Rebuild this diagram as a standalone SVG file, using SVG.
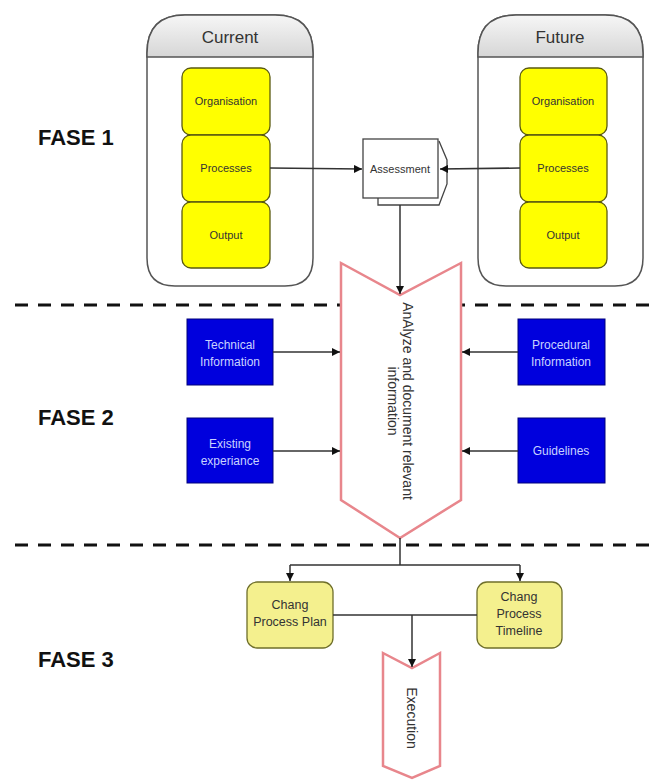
<svg xmlns="http://www.w3.org/2000/svg" width="654" height="780" viewBox="0 0 654 780">
<defs>
<linearGradient id="hdr" x1="0" y1="0" x2="0" y2="1">
<stop offset="0" stop-color="#f6f6f6"/>
<stop offset="1" stop-color="#d6d6d6"/>
</linearGradient>
<marker id="ah" viewBox="0 0 10 10" refX="10" refY="5" markerWidth="8" markerHeight="8" markerUnits="userSpaceOnUse" orient="auto">
<path d="M0,0 L10,5 L0,10 z" fill="#111"/>
</marker>
<style>
text{font-family:"Liberation Sans",Arial,sans-serif;}
.cont{fill:#fff;stroke:#555;stroke-width:1.5;}
.hdr{fill:url(#hdr);stroke:#555;stroke-width:1.5;}
.ht{font-size:17px;fill:#333;text-anchor:middle;}
.yb{fill:#ffff00;stroke:#5a5a10;stroke-width:1.3;}
.yt{font-size:11px;fill:#333;text-anchor:middle;}
.bb{fill:#0000dd;stroke:#00007a;stroke-width:1;}
.bt{font-size:12px;fill:#c8d2ff;text-anchor:middle;}
.cb{fill:#f4f08e;stroke:#6f6f2a;stroke-width:1.3;}
.ct{font-size:12.5px;fill:#333;text-anchor:middle;}
.chev{fill:#fff;stroke:#e8868c;stroke-width:2.5;}
.rt{font-size:14px;fill:#333;text-anchor:middle;}
.fase{font-size:22px;font-weight:bold;fill:#111;}
.dash{stroke:#111;stroke-width:3;stroke-dasharray:13 10;fill:none;}
.ln{stroke:#333;stroke-width:1.5;fill:none;}
.arr{stroke:#333;stroke-width:1.5;fill:none;marker-end:url(#ah);}
</style>
</defs>
<rect width="654" height="780" fill="#fff"/>

<g id="phases">
<text class="fase" x="38" y="145">FASE 1</text>
<text class="fase" x="38" y="425">FASE 2</text>
<text class="fase" x="38" y="667">FASE 3</text>
<line class="dash" x1="15" y1="305" x2="654" y2="305"/>
<line class="dash" x1="15" y1="545" x2="654" y2="545"/>
</g>

<g id="current">
<path class="cont" d="M185,15 L275,15 Q313,15 313,53 L313,258 Q313,286 285,286 L175,286 Q147,286 147,258 L147,53 Q147,15 185,15 z"/>
<path class="hdr" d="M185,15 L275,15 Q313,15 313,53 L313,57 L147,57 L147,53 Q147,15 185,15 z"/>
<text class="ht" x="230" y="43">Current</text>
</g>
<g id="cur-org"><rect class="yb" x="182" y="68" width="88" height="67" rx="9"/><text class="yt" x="226" y="105">Organisation</text></g>
<g id="cur-proc"><rect class="yb" x="182" y="135" width="88" height="67" rx="9"/><text class="yt" x="226" y="172">Processes</text></g>
<g id="cur-out"><rect class="yb" x="182" y="202" width="88" height="66" rx="9"/><text class="yt" x="226" y="239">Output</text></g>

<g id="future">
<path class="cont" d="M516,15 L605,15 Q643,15 643,53 L643,258 Q643,286 615,286 L506,286 Q478,286 478,258 L478,53 Q478,15 516,15 z"/>
<path class="hdr" d="M516,15 L605,15 Q643,15 643,53 L643,57 L478,57 L478,53 Q478,15 516,15 z"/>
<text class="ht" x="560" y="43">Future</text>
</g>
<g id="fut-org"><rect class="yb" x="520" y="68" width="87" height="67" rx="9"/><text class="yt" x="563" y="105">Organisation</text></g>
<g id="fut-proc"><rect class="yb" x="520" y="135" width="87" height="67" rx="9"/><text class="yt" x="563" y="172">Processes</text></g>
<g id="fut-out"><rect class="yb" x="520" y="202" width="87" height="66" rx="9"/><text class="yt" x="563" y="239">Output</text></g>

<g id="assessment">
<path d="M378,198 L378,205 L439,205 L447,184 L447,160 L439,141" fill="#fff" stroke="#444" stroke-width="1.3"/>
<rect x="363" y="139" width="75" height="59" fill="#fff" stroke="#444" stroke-width="1.3"/>
<text x="400" y="173" font-size="11" fill="#333" text-anchor="middle">Assessment</text>
</g>

<g id="analyze">
<polygon class="chev" points="341,263 400,295 461,263 461,500 400,538 341,500"/>
<g transform="translate(400,401) rotate(90)">
<text class="rt" x="0" y="-3">AnAlyze and document relevant</text>
<text class="rt" x="0" y="12">information</text>
</g>
</g>

<g id="technical"><rect class="bb" x="187" y="319" width="86" height="66"/><text class="bt" x="230" y="349">Technical</text><text class="bt" x="230" y="366">Information</text></g>
<g id="existing"><rect class="bb" x="187" y="418" width="86" height="65"/><text class="bt" x="230" y="448">Existing</text><text class="bt" x="230" y="465">experiance</text></g>
<g id="procedural"><rect class="bb" x="518" y="319" width="87" height="66"/><text class="bt" x="561" y="349">Procedural</text><text class="bt" x="561" y="366">Information</text></g>
<g id="guidelines"><rect class="bb" x="518" y="418" width="87" height="65"/><text class="bt" x="561" y="455">Guidelines</text></g>

<g id="plan"><rect class="cb" x="247" y="582" width="86" height="66" rx="10"/><text class="ct" x="290" y="609">Chang</text><text class="ct" x="290" y="626">Process Plan</text></g>
<g id="timeline"><rect class="cb" x="477" y="582" width="85" height="66" rx="10"/><text class="ct" x="519" y="601">Chang</text><text class="ct" x="519" y="618">Process</text><text class="ct" x="519" y="635">Timeline</text></g>

<g id="execution">
<polygon class="chev" points="383,653 412,668 440,653 440,766 412,778 383,766"/>
<g transform="translate(412,718) rotate(90)"><text class="rt" x="0" y="5">Execution</text></g>
</g>

<g id="connectors">
<path class="arr" d="M270,168 L362,169"/>
<path class="arr" d="M520,168 L440,169"/>
<path class="arr" d="M400,205 L400,294"/>
<path class="arr" d="M273,352 L340,352"/>
<path class="arr" d="M273,451 L340,451"/>
<path class="arr" d="M518,352 L462,352"/>
<path class="arr" d="M518,451 L462,451"/>
<path class="ln" d="M400,538 L400,565 M290,565 L520,565"/>
<path class="arr" d="M290,565 L290,581"/>
<path class="arr" d="M520,565 L520,581"/>
<path class="ln" d="M333,615 L477,615"/>
<path class="arr" d="M412,615 L412,667"/>
</g>
</svg>
